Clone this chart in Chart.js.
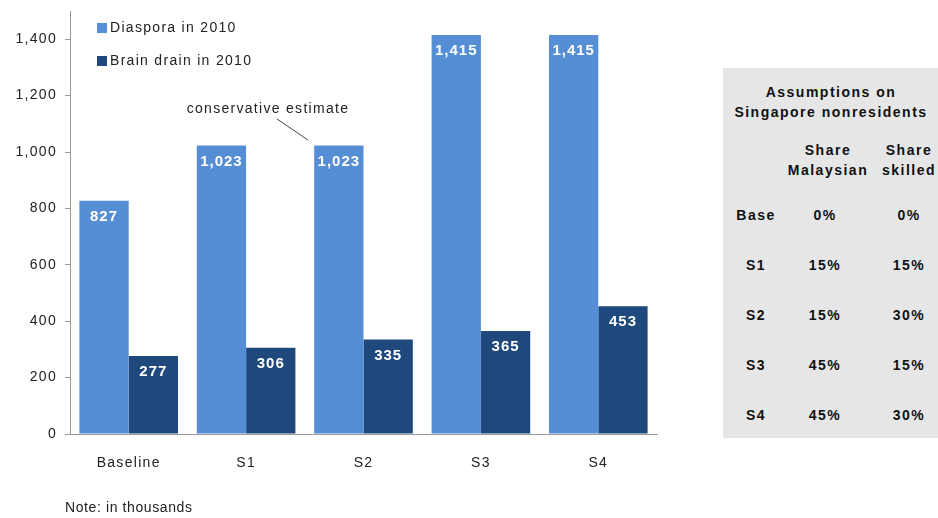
<!DOCTYPE html>
<html><head><meta charset="utf-8">
<script src="https://cdn.jsdelivr.net/npm/chart.js@4.4.1/dist/chart.umd.min.js"></script>
<style>
html,body{margin:0;padding:0;background:#fff;}
#wrap{position:relative;width:938px;height:518px;}
#tbl{position:absolute;left:723px;top:68px;width:215px;height:370px;background:#e6e6e6;font-family:"Liberation Sans",Arial,sans-serif;font-weight:bold;font-size:14px;letter-spacing:1.5px;color:#111;}
#tbl div{position:absolute;text-align:center;line-height:20px;white-space:nowrap;}
</style></head>
<body><div id="wrap"><canvas id="c" width="938" height="518"></canvas>
<div id="tbl"></div></div>
<script>
const categories = ["Baseline","S1","S2","S3","S4"];
const diaspora = [827,1023,1023,1415,1415];
const brainDrain = [277,306,335,365,453];
const yTicks = [0,200,400,600,800,1000,1200,1400];
const tableTitle = ["Assumptions on","Singapore nonresidents"];
const tableHeads = [["Share","Malaysian"],["Share","skilled"]];
const tableRows = ["Base","S1","S2","S3","S4"];
const shareMalaysian = ["0%","15%","15%","45%","45%"];
const shareSkilled = ["0%","15%","30%","15%","30%"];

const FONT = '"Liberation Sans", Arial, sans-serif';
const light = '#558ed5', dark = '#1f497d';

// table
const tbl = document.getElementById('tbl');
function cell(txt,cx,y,w){const d=document.createElement('div');d.innerHTML=txt;d.style.left=(cx-w/2)+'px';d.style.top=y+'px';d.style.width=w+'px';tbl.appendChild(d);}
cell(tableTitle.join('<br>'),108,14,215);
cell(tableHeads[0].join('<br>'),105,72,110);
cell(tableHeads[1].join('<br>'),186,72,70);
tableRows.forEach((r,i)=>{const y=137+i*50;cell(r,33,y,60);cell(shareMalaysian[i],102,y,70);cell(shareSkilled[i],186,y,60);});

const overlay = {
  id:'overlay',
  beforeLayout(chart){chart.ctx.letterSpacing='1.3px';},
  beforeDraw(chart){chart.ctx.letterSpacing='1.3px';},
  afterDatasetsDraw(chart){
    const ctx=chart.ctx;
    ctx.save();
    ctx.letterSpacing='1px';
    ctx.font='bold 15px '+FONT;ctx.fillStyle='#fff';ctx.textAlign='center';ctx.textBaseline='middle';
    chart.data.datasets.forEach((ds,di)=>{
      chart.getDatasetMeta(di).data.forEach((el,i)=>{
        ctx.fillText(ds.data[i].toLocaleString('en-US'),el.x,el.y+16);
      });
    });
    // legend
    ctx.letterSpacing='1.3px';
    ctx.font='14px '+FONT;ctx.textAlign='left';
    ctx.fillStyle=light;ctx.fillRect(97,23,10,10);
    ctx.fillStyle=dark;ctx.fillRect(97,56,10,10);
    ctx.fillStyle='#222';
    ctx.fillText('Diaspora in 2010',110,28);
    ctx.fillText('Brain drain in 2010',110,61);
    // annotation
    ctx.textAlign='center';
    ctx.fillText('conservative estimate',268,109);
    ctx.strokeStyle='#444';ctx.lineWidth=1;
    ctx.beginPath();ctx.moveTo(277,119);ctx.lineTo(308,140);ctx.stroke();
    // note
    ctx.letterSpacing='0.6px';
    ctx.textAlign='left';
    ctx.fillText('Note: in thousands',65,508);
    ctx.restore();
  }
};

new Chart(document.getElementById('c'),{
  type:'bar',
  data:{labels:categories,datasets:[
    {label:'Diaspora in 2010',data:diaspora,backgroundColor:light},
    {label:'Brain drain in 2010',data:brainDrain,backgroundColor:dark}
  ]},
  options:{
    responsive:false,animation:false,
    layout:{padding:{top:11,right:281,left:0,bottom:0}},
    datasets:{bar:{categoryPercentage:0.84,barPercentage:1.0}},
    plugins:{legend:{display:false},tooltip:{enabled:false}},
    scales:{
      x:{
        grid:{display:false},
        border:{color:'#999',width:1},
        ticks:{color:'#222',font:{family:FONT,size:14},padding:13},
        afterFit(s){s.height=84;}
      },
      y:{
        min:0,max:1500,
        afterBuildTicks(s){s.ticks=yTicks.map(v=>({value:v})).concat([{value:1500}]);},
        ticks:{color:'#222',font:{family:FONT,size:14},padding:8,
          callback:(v)=>yTicks.includes(v)?v.toLocaleString('en-US'):''},
        grid:{drawOnChartArea:false,drawTicks:true,tickLength:5,
          color:(c)=>c.tick && c.tick.value===1500?'rgba(0,0,0,0)':'#999'},
        border:{color:'#999',width:1},
        afterFit(s){s.width=70;s.paddingTop=0;}
      }
    }
  },
  plugins:[overlay]
});
</script></body></html>
